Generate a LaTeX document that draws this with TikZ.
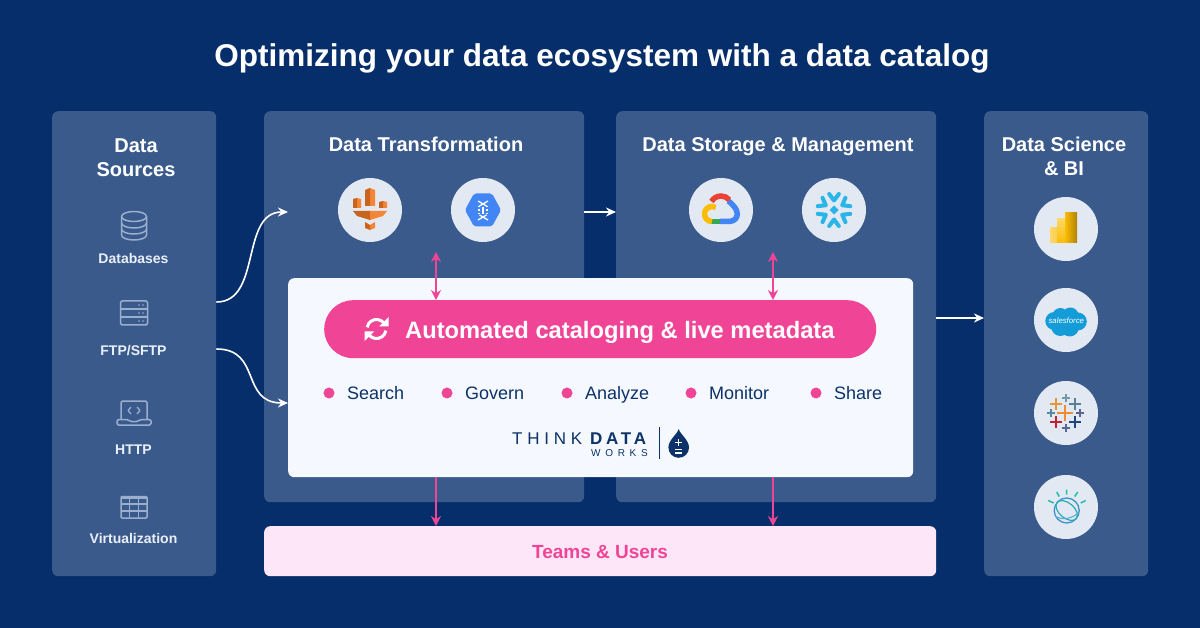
\documentclass[tikz,border=0pt]{standalone}
\usepackage{fontspec}
\setmainfont{Liberation Sans}
\usetikzlibrary{arrows.meta,shapes.geometric}
\definecolor{bgc}{HTML}{052E6B}
\definecolor{panelc}{HTML}{3A5A8C}
\definecolor{catc}{HTML}{F5F8FE}
\definecolor{pinkc}{HTML}{F04596}
\definecolor{teamc}{HTML}{FDE6F7}
\definecolor{circc}{HTML}{E3E9F2}
\definecolor{iconc}{HTML}{9AAECD}
\definecolor{labc}{HTML}{EAF0F9}
\definecolor{inkc}{HTML}{0C3269}
\definecolor{awsd}{HTML}{C8641E}
\definecolor{awsl}{HTML}{F58534}
\definecolor{gblue}{HTML}{4285F4}
\definecolor{gred}{HTML}{EA4335}
\definecolor{gyel}{HTML}{FBBC05}
\definecolor{ggreen}{HTML}{34A853}
\definecolor{snow}{HTML}{29B5E8}
\definecolor{sfc}{HTML}{139CD8}
\definecolor{teal}{HTML}{1DBFAF}
\definecolor{wblue}{HTML}{3B92C6}
\tikzset{
 panel/.style={fill=panelc,rounded corners=6pt,inner sep=0pt,anchor=north west},
 head/.style={text=white,font=\fontsize{20}{24}\selectfont\bfseries,align=center,inner sep=0pt},
 headone/.style={head,anchor=base},
 lab/.style={text=labc,font=\fontsize{14}{16}\selectfont\bfseries,inner sep=0pt,anchor=base},
 feat/.style={text=inkc,font=\fontsize{18}{20}\selectfont,anchor=base west,inner sep=0pt},
 bull/.style={circle,fill=pinkc,minimum size=11pt,inner sep=0pt},
 disc/.style={circle,fill=circc,minimum size=64pt,inner sep=0pt},
 wline/.style={draw=white,line width=1.6pt,-{Stealth[length=10pt,width=9pt]}},
 pline/.style={draw=pinkc,line width=1.5pt,-{Stealth[length=10pt,width=10pt]}},
 pboth/.style={draw=pinkc,line width=1.5pt,{Stealth[length=10pt,width=10pt]}-{Stealth[length=10pt,width=10pt]}},
 ico/.style={draw=iconc,line width=1.5pt,line join=round},
}
\begin{document}
\begin{tikzpicture}[x=1pt,y=-1pt]
\useasboundingbox (0,0) rectangle (1200,628);
\fill[bgc] (0,0) rectangle (1200,628);
\node[text=white,font=\fontsize{31.5}{38}\selectfont\bfseries,inner sep=0pt,anchor=base] (title) at (602,66.5) {Optimizing your data ecosystem with a data catalog};
% panels
\node[panel,minimum width=164pt,minimum height=465pt] (src) at (52,111) {};
\node[panel,minimum width=320pt,minimum height=391pt] (trans) at (264,111) {};
\node[panel,minimum width=320pt,minimum height=391pt] (store) at (616,111) {};
\node[panel,minimum width=164pt,minimum height=465pt] (bi) at (984,111) {};
\node[panel,fill=catc,minimum width=625pt,minimum height=199pt] (cat) at (288,278) {};
\node[panel,fill=teamc,minimum width=672pt,minimum height=50pt] (team) at (264,526) {};
\node[text=pinkc,font=\fontsize{19}{22}\selectfont\bfseries,inner sep=0pt,anchor=base] (teamt) at (600,558.5) {Teams \& Users};
% headings
\node[head] (h1) at (136,157.5) {Data\\Sources};
\node[headone] (h2) at (426,152) {Data Transformation};
\node[headone] (h3) at (778,152) {Data Storage \& Management};
\node[head] (h4) at (1064,156.5) {Data Science\\\& BI};
% source labels
\node[lab] (l1) at (133.5,264) {Databases};
\node[lab] (l2) at (133.5,355.5) {FTP/SFTP};
\node[lab] (l3) at (133.5,454.5) {HTTP};
\node[lab] (l4) at (133.5,543.5) {Virtualization};
% database icon
\draw[ico] (134,216.5) ellipse [x radius=12.5,y radius=5];
\draw[ico] (121.5,216.5) -- (121.5,235) arc[start angle=180,end angle=0,x radius=12.5,y radius=5] -- (146.5,216.5);
\draw[ico] (121.5,223) arc[start angle=180,end angle=0,x radius=12.5,y radius=5];
\draw[ico] (121.5,229) arc[start angle=180,end angle=0,x radius=12.5,y radius=5];
% server icon
\draw[ico,rounded corners=1.5pt] (120.5,301) rectangle (147.5,325);
\draw[ico] (120.5,309) -- (147.5,309) (120.5,317) -- (147.5,317);
\foreach \y in {305,313,321}{\fill[iconc] (139,\y) circle (.8) (143,\y) circle (.8);}
% laptop icon
\draw[ico,rounded corners=2pt] (121,419.5) -- (121,401) -- (147,401) -- (147,419.5);
\draw[ico,rounded corners=1.5pt] (117,419.5) -- (128,419.5) -- (130,421.5) -- (138,421.5) -- (140,419.5) -- (151,419.5) -- (151,425) -- (117,425) -- cycle;
\draw[ico,line width=1.3pt] (131,407) -- (128,410.5) -- (131,414) (137,407) -- (140,410.5) -- (137,414);
% table icon
\draw[ico,rounded corners=1pt] (121,496.5) rectangle (147,518);
\fill[iconc] (121,496.5) rectangle (147,499);
\draw[ico] (121,504) -- (147,504) (121,511) -- (147,511) (129.7,498) -- (129.7,518) (138.3,498) -- (138.3,518);
% discs
\node[disc] (d1) at (370,210) {};
\node[disc] (d2) at (483,210) {};
\node[disc] (d3) at (721,210) {};
\node[disc] (d4) at (834,210) {};
\node[disc] (d5) at (1066,229) {};
\node[disc] (d6) at (1066,320) {};
\node[disc] (d7) at (1066,413) {};
\node[disc] (d8) at (1066,507) {};
% AWS Glue
\begin{scope}[shift={(370,210)}]
\fill[awsl] (0,-22) -- (5,-20) -- (5,-4) -- (0,-4) -- cycle;
\fill[awsd] (0,-22) -- (-5,-20) -- (-5,-4) -- (0,-4) -- cycle;
\fill[awsl] (-13,-12) -- (-9,-11) -- (-9,-2) -- (-13,-2) -- cycle;
\fill[awsd] (-13,-12) -- (-17,-11) -- (-17,-2) -- (-13,-2) -- cycle;
\fill[awsl] (13,-9) -- (17,-8) -- (17,-2) -- (13,-2) -- cycle;
\fill[awsd] (13,-9) -- (9,-8) -- (9,-2) -- (13,-2) -- cycle;
\fill[awsd] (-17,1) -- (0,1) -- (0,10) -- (-13,6) -- cycle;
\fill[awsl] (17,1) -- (0,1) -- (0,10) -- (13,6) -- cycle;
\fill[awsl] (0,15) -- (5,12) -- (5,18) -- (0,20) -- cycle;
\fill[awsd] (0,15) -- (-5,12) -- (-5,18) -- (0,20) -- cycle;
\end{scope}
% BigQuery
\begin{scope}[shift={(483,210)}]
\fill[gblue,rounded corners=2pt] (-18,0) -- (-9,-16.5) -- (9,-16.5) -- (18,0) -- (9,16.5) -- (-9,16.5) -- cycle;
\draw[white,line width=1.3pt] (-5,-9) -- (3.5,-4) (5,-9) -- (-3.5,-4) (-5,10) -- (3.5,5) (5,10) -- (-3.5,5);
\draw[white,line width=1.3pt,dotted] (-4,-4) -- (-4,5) (4,-4) -- (4,5);
\fill[white] (-1,-3) rectangle (1,4);
\end{scope}
% Google Cloud
\begin{scope}[shift={(721,210)},line width=5.5pt]
\draw[gblue] (-1,11.3) -- (9,11.3) arc[start angle=90,end angle=0,radius=7.3] .. controls (16.3,-1) and (12,-5) .. (7.5,-9);
\draw[gred] (0,-3) ++(-150:11) arc[start angle=-150,end angle=-40,radius=11];
\draw[ggreen] (-10,11.3) -- (-1,11.3);
\draw[gyel] (-9,11.5) arc[start angle=90,end angle=300,radius=7.5];
\end{scope}
% Snowflake
\begin{scope}[shift={(834,210)}]
\foreach \a in {30,90,150,210,270,330}{
 \begin{scope}[rotate=\a]
 \draw[snow,line width=4pt,line cap=round,line join=round] (16,-4.8) -- (9.5,0) -- (16,4.8);
 \end{scope}
}
\fill[snow] (0,-4.5) -- (4.5,0) -- (0,4.5) -- (-4.5,0) -- cycle;
\end{scope}
% Power BI
\shade[left color=gyel!60!white,right color=gyel!80!white] (1050,228) rectangle (1063,243);
\shade[top color=gyel!60!white,bottom color=gyel] (1057,219) rectangle (1070,243);
\shade[left color=gyel,right color=gyel!70!black] (1065,213) rectangle (1077,243);
% Salesforce
\begin{scope}[shift={(1066.3,322)}]
\fill[sfc] (-12,-1) circle (9) (-6,-6) circle (8) (4,-6) circle (8.5) (11.5,-0.5) circle (9) (3.5,5.5) circle (9) (-6,5) circle (9);
\node[text=white,font=\fontsize{7.8}{9}\selectfont\itshape,inner sep=0pt] (sflab) at (0,-1) {salesforce};
\end{scope}
% Tableau
\foreach \x/\y/\s/\c/\w in {1065/413/8/F28B30/2.4,1056/404/6/E8953A/2,1075/404/6/5B7F95/2,1056/422/6/C72035/2.2,1075/422/6/1F457E/2.2,1066/398/3.8/7099A6/1.2,1051/413/3.8/59879B/1.2,1080/413/3.8/5B6591/1.2,1066/428/3.8/5B6591/1.2}{
 \definecolor{tc}{HTML}{\c}
 \draw[tc,line width=\w pt] (\x-\s,\y) -- (\x+\s,\y) (\x,\y-\s) -- (\x,\y+\s);
}
% IBM Watson
\begin{scope}[shift={(1066.7,510.5)}]
\draw[teal,line width=1.5pt] (-18.5,-10) -- (-13,-7.5) (-10,-18.5) -- (-7.5,-14) (0,-21) -- (0,-16) (11,-18.5) -- (8,-14) (19,-10) -- (14,-7.5);
\draw[wblue,line width=1.3pt] (0,0) circle (12.5);
\draw[teal!60!wblue,line width=1.2pt,rotate=-40] (0,0) ellipse [x radius=12.5,y radius=7.5];
\draw[wblue!80!white,line width=1.1pt] (-11,6) .. controls (-4,10) and (6,8) .. (12,2);
\end{scope}
% catalog
\node[fill=pinkc,rounded corners=29pt,minimum width=552pt,minimum height=58pt,inner sep=0pt,anchor=north west] (pill) at (324,300) {};
\node[text=white,font=\fontsize{23.7}{28}\selectfont\bfseries,inner sep=0pt,anchor=base west] (pillt) at (405,338.5) {Automated cataloging \& live metadata};
\begin{scope}[shift={(376.5,329)}]
\draw[white,line width=3pt] (0,0) ++(-170:9.5) arc[start angle=-170,end angle=-40,radius=9.5];
\fill[white] (12,-12) -- (12,-2.5) -- (2.5,-2.5) -- cycle;
\draw[white,line width=3pt] (0,0) ++(10:9.5) arc[start angle=10,end angle=140,radius=9.5];
\fill[white] (-12,12) -- (-12,2.5) -- (-2.5,2.5) -- cycle;
\end{scope}
\node[bull] (b1) at (329,393) {};
\node[bull] (b2) at (447,393) {};
\node[bull] (b3) at (567,393) {};
\node[bull] (b4) at (691,393) {};
\node[bull] (b5) at (816,393) {};
\node[feat] (f1) at (347,399.5) {Search};
\node[feat] (f2) at (465,399.5) {Govern};
\node[feat] (f3) at (585,399.5) {Analyze};
\node[feat] (f4) at (709,399.5) {Monitor};
\node[feat] (f5) at (834,399.5) {Share};
% logo
\node[text=inkc,font=\fontsize{17}{20}\selectfont\addfontfeature{LetterSpace=28},inner sep=0pt,anchor=base west] (lg1) at (512,444) {THINK};
\node[text=inkc,font=\fontsize{17}{20}\selectfont\bfseries\addfontfeature{LetterSpace=22},inner sep=0pt,anchor=base west] (lg2) at (590,444) {DATA};
\node[text=inkc,font=\fontsize{10}{12}\selectfont\addfontfeature{LetterSpace=47},inner sep=0pt,anchor=base west] (lg3) at (591,456) {WORKS};
\draw[inkc,line width=.8pt] (659,427) -- (659,459);
\fill[inkc] (678.7,429) .. controls (680,434) and (689,440) .. (689,447.5) arc[start angle=0,end angle=180,radius=10.3] .. controls (668.4,440) and (677.4,434) .. cycle;
\draw[white,line width=1.2pt] (675,442.5) -- (682.4,442.5) (678.7,439) -- (678.7,446) (675,449.5) -- (682.4,449.5) (675,453) -- (682.4,453);
% connector ends
\coordinate (a1) at (src.east |- 0,302);
\coordinate (a2) at (cat.west |- 0,212);
\coordinate (a3) at (src.east |- 0,349);
\coordinate (a4) at (cat.west |- 0,403);
\coordinate (a5) at (trans.east |- 0,212);
\coordinate (a6) at (store.west |- 0,212);
\coordinate (a7) at (store.east |- 0,318);
\coordinate (a8) at (bi.west |- 0,318);
\coordinate (p1) at (436,252);
\coordinate (p2) at (773,252);
\draw[wline] (a1) .. controls (262,302) and (240,212) .. (a2);
\draw[wline] (a3) .. controls (262,349) and (240,403) .. (a4);
\draw[wline] (a5) -- (a6);
\draw[wline] (a7) -- (a8);
\draw[pboth] (p1) -- (p1 |- pill.north);
\draw[pboth] (p2) -- (p2 |- pill.north);
\draw[pline] (p1 |- cat.south) -- (p1 |- team.north);
\draw[pline] (p2 |- cat.south) -- (p2 |- team.north);
\end{tikzpicture}
\end{document}
